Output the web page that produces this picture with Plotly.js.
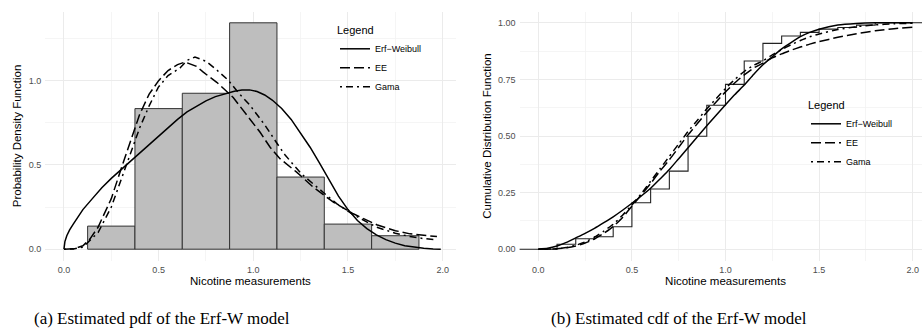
<!DOCTYPE html>
<html>
<head>
<meta charset="utf-8">
<script src="https://cdn.plot.ly/plotly-3.0.1.min.js"></script>
<style>
html, body { margin: 0; padding: 0; overflow: hidden; background: #fff; }
#chart { width: 932px; height: 329px; }
</style>
</head>
<body>
<div id="chart"></div>
<script>
// ---------- Histogram (density) ----------
var histCenters = [0.25, 0.5, 0.75, 1.0, 1.25, 1.5, 1.75];
var histDensity = [0.137, 0.834, 0.925, 1.343, 0.428, 0.149, 0.080];

// ---------- Fitted pdf curves ----------
var erfPdfX = [0, 0.005, 0.015, 0.03, 0.05, 0.075, 0.1, 0.15, 0.2, 0.25, 0.3, 0.35, 0.4, 0.45, 0.5, 0.55, 0.6, 0.65, 0.7, 0.75, 0.8, 0.85, 0.9, 0.94, 0.98, 1.02, 1.06, 1.1, 1.15, 1.2, 1.25, 1.3, 1.35, 1.4, 1.45, 1.5, 1.55, 1.6, 1.65, 1.7, 1.75, 1.8, 1.85, 1.9, 1.95, 1.99];
var erfPdfY = [0, 0.045, 0.08, 0.115, 0.15, 0.195, 0.235, 0.30, 0.365, 0.42, 0.47, 0.52, 0.575, 0.625, 0.675, 0.72, 0.77, 0.815, 0.85, 0.88, 0.905, 0.922, 0.937, 0.945, 0.945, 0.935, 0.915, 0.885, 0.835, 0.77, 0.69, 0.605, 0.51, 0.41, 0.315, 0.235, 0.17, 0.122, 0.085, 0.057, 0.036, 0.021, 0.012, 0.005, 0.0015, 0];

var eePdfX = [0, 0.05, 0.1, 0.137, 0.18, 0.25, 0.3, 0.35, 0.4, 0.45, 0.5, 0.55, 0.6, 0.64, 0.7, 0.736, 0.807, 0.894, 0.965, 1.035, 1.088, 1.141, 1.229, 1.317, 1.423, 1.528, 1.652, 1.75, 1.828, 1.9, 1.97];
var eePdfY = [0, 0.002, 0.02, 0.06, 0.13, 0.30, 0.47, 0.64, 0.80, 0.92, 1.0, 1.06, 1.095, 1.11, 1.085, 1.05, 0.99, 0.90, 0.794, 0.695, 0.606, 0.537, 0.457, 0.368, 0.279, 0.21, 0.145, 0.11, 0.091, 0.082, 0.075];

var gamPdfX = [0, 0.05, 0.1, 0.137, 0.181, 0.25, 0.322, 0.375, 0.4, 0.45, 0.498, 0.55, 0.613, 0.65, 0.692, 0.75, 0.8, 0.868, 0.92, 0.983, 1.062, 1.124, 1.167, 1.256, 1.335, 1.44, 1.528, 1.652, 1.75, 1.828, 1.9, 1.97];
var gamPdfY = [0, 0.001, 0.012, 0.05, 0.10, 0.25, 0.477, 0.64, 0.72, 0.85, 0.96, 1.03, 1.075, 1.12, 1.14, 1.115, 1.07, 1.002, 0.93, 0.853, 0.735, 0.63, 0.56, 0.445, 0.368, 0.27, 0.205, 0.13, 0.095, 0.075, 0.063, 0.055];

// ---------- Empirical cdf ----------
var ecdfX = [-0.3, 0.1, 0.2, 0.3, 0.4, 0.5, 0.6, 0.7, 0.8, 0.9, 1.0, 1.1, 1.2, 1.3, 1.4, 1.5, 1.6, 1.7, 1.8, 2.4];
var ecdfY = [0, 0.022, 0.046, 0.055, 0.099, 0.205, 0.266, 0.345, 0.499, 0.636, 0.728, 0.831, 0.909, 0.942, 0.958, 0.972, 0.979, 0.99, 1.0, 1.0];

// ---------- Fitted cdf curves ----------
var cdfX = [0, 0.05, 0.1, 0.15, 0.2, 0.25, 0.3, 0.35, 0.4, 0.45, 0.5, 0.55, 0.6, 0.65, 0.7, 0.75, 0.8, 0.85, 0.9, 0.95, 1.0, 1.05, 1.1, 1.15, 1.2, 1.25, 1.3, 1.35, 1.4, 1.45, 1.5, 1.6, 1.7, 1.8, 1.9, 2.0];
var erfCdfY = [0, 0.004, 0.014, 0.03, 0.05, 0.07, 0.092, 0.117, 0.143, 0.172, 0.203, 0.235, 0.269, 0.31, 0.352, 0.40, 0.448, 0.497, 0.545, 0.592, 0.638, 0.683, 0.725, 0.772, 0.815, 0.85, 0.885, 0.913, 0.939, 0.958, 0.972, 0.99, 0.997, 1.0, 1.0, 1.0];
var eeCdfY = [0, 0.0005, 0.002, 0.006, 0.014, 0.027, 0.045, 0.07, 0.10, 0.14, 0.19, 0.24, 0.29, 0.345, 0.395, 0.45, 0.505, 0.555, 0.605, 0.65, 0.695, 0.735, 0.77, 0.80, 0.822, 0.845, 0.863, 0.879, 0.893, 0.906, 0.917, 0.936, 0.952, 0.965, 0.974, 0.981];
var gamCdfY = [0, 0.0003, 0.002, 0.007, 0.017, 0.032, 0.053, 0.08, 0.11, 0.15, 0.195, 0.245, 0.30, 0.355, 0.41, 0.465, 0.52, 0.57, 0.62, 0.665, 0.71, 0.75, 0.785, 0.812, 0.832, 0.858, 0.882, 0.903, 0.922, 0.938, 0.951, 0.97, 0.983, 0.991, 0.996, 0.998];

// ---------- Labels ----------
var seriesNames = ['Erf\u2212Weibull', 'EE', 'Gama'];
var xTickVals = [0, 0.5, 1.0, 1.5, 2.0];
var xTickText = ['0.0', '0.5', '1.0', '1.5', '2.0'];
var pdfTickVals = [0, 0.5, 1.0];
var pdfTickText = ['0.0', '0.5', '1.0'];
var cdfTickVals = [0, 0.25, 0.5, 0.75, 1.0];
var cdfTickText = ['0.00', '0.25', '0.50', '0.75', '1.00'];
var xTitle = 'Nicotine measurements';
var pdfTitle = 'Probability Density Function';
var cdfTitle = 'Cumulative Distribution Function';
var captionA = '(a) Estimated pdf of the Erf-W model';
var captionB = '(b) Estimated cdf of the Erf-W model';

var dashes = ['solid', '10px,4px', '2px,4px,7px,4px'];
var lw = 1.5;

function curve(x, y, i, xa, ya, leg, shape) {
  return {type: 'scatter', mode: 'lines', x: x, y: y, name: seriesNames[i], xaxis: xa, yaxis: ya,
    line: {color: '#000', width: lw, dash: dashes[i], shape: shape, smoothing: 0.5}, legend: leg};
}

var traces = [
  {type: 'bar', x: histCenters, y: histDensity, width: 0.25, xaxis: 'x', yaxis: 'y',
   marker: {color: '#BEBEBE', line: {color: '#333333', width: 1}}, showlegend: false, hoverinfo: 'skip'},
  curve(erfPdfX, erfPdfY, 0, 'x', 'y', 'legend', 'linear'),
  curve(eePdfX, eePdfY, 1, 'x', 'y', 'legend', 'linear'),
  curve(gamPdfX, gamPdfY, 2, 'x', 'y', 'legend', 'linear'),
  {type: 'scatter', mode: 'lines', x: ecdfX, y: ecdfY, xaxis: 'x2', yaxis: 'y2', showlegend: false,
   line: {color: '#222', width: 1.1, shape: 'hv'}, hoverinfo: 'skip'},
  curve(cdfX, erfCdfY, 0, 'x2', 'y2', 'legend2', 'spline'),
  curve(cdfX, eeCdfY, 1, 'x2', 'y2', 'legend2', 'spline'),
  curve(cdfX, gamCdfY, 2, 'x2', 'y2', 'legend2', 'spline')
];

var W = 932, H = 329;
var gridMajor = '#EBEBEB', gridMinor = '#F3F3F3';
var sans = 'Liberation Sans, Arial, sans-serif';
var tickFont = {family: sans, size: 9, color: '#4D4D4D'};
var titleFont = {family: sans, size: 11.5, color: '#000'};
var yDom = [(H - 260.5) / H, (H - 11.5) / H];

function xAxis(dom, range, anchor) {
  return {domain: dom, range: range, anchor: anchor, tickvals: xTickVals, ticktext: xTickText,
    showgrid: true, gridcolor: gridMajor, gridwidth: 1, zeroline: false, showline: false, ticks: '',
    minor: {dtick: 0.25, tick0: 0, showgrid: true, gridcolor: gridMinor, gridwidth: 0.8},
    tickfont: tickFont, ticklabelstandoff: 2,
    title: {text: xTitle, font: titleFont, standoff: 3}};
}
function yAxis(range, anchor, vals, text, minorStep, title) {
  return {domain: yDom, range: range, anchor: anchor, tickvals: vals, ticktext: text,
    showgrid: true, gridcolor: gridMajor, gridwidth: 1, zeroline: false, showline: false, ticks: '',
    minor: {dtick: minorStep, tick0: 0, showgrid: true, gridcolor: gridMinor, gridwidth: 0.8},
    tickfont: tickFont, ticklabelstandoff: 3,
    title: {text: title, font: titleFont, standoff: 4}};
}
function legendBox(x, y) {
  return {title: {text: 'Legend', font: {family: sans, size: 11, color: '#000'}},
    font: {family: sans, size: 9, color: '#000'},
    x: x / W, y: (H - y) / H, xanchor: 'left', yanchor: 'top', bgcolor: 'rgba(0,0,0,0)', borderwidth: 0};
}

var layout = {
  width: W, height: H,
  margin: {l: 0, r: 0, t: 0, b: 0},
  paper_bgcolor: '#fff', plot_bgcolor: '#fff',
  bargap: 0,
  xaxis: xAxis([45.3 / W, 455.6 / W], [-0.0985, 2.0685], 'y'),
  yaxis: yAxis([-0.067, 1.41], 'x', pdfTickVals, pdfTickText, 0.25, pdfTitle),
  xaxis2: xAxis([519.6 / W, 931.4 / W], [-0.1, 2.1], 'y2'),
  yaxis2: yAxis([-0.05, 1.05], 'x2', cdfTickVals, cdfTickText, 0.125, cdfTitle),
  legend: legendBox(335, 20),
  legend2: legendBox(806, 95),
  annotations: [
    {text: captionA, xref: 'paper', yref: 'paper', x: 162 / W, y: (H - 318) / H, xanchor: 'center', yanchor: 'middle',
     showarrow: false, font: {family: 'Liberation Serif, Times New Roman, serif', size: 17, color: '#000'}},
    {text: captionB, xref: 'paper', yref: 'paper', x: 679 / W, y: (H - 318) / H, xanchor: 'center', yanchor: 'middle',
     showarrow: false, font: {family: 'Liberation Serif, Times New Roman, serif', size: 17, color: '#000'}}
  ]
};

Plotly.newPlot('chart', traces, layout, {displayModeBar: false, staticPlot: true});
</script>
</body>
</html>
